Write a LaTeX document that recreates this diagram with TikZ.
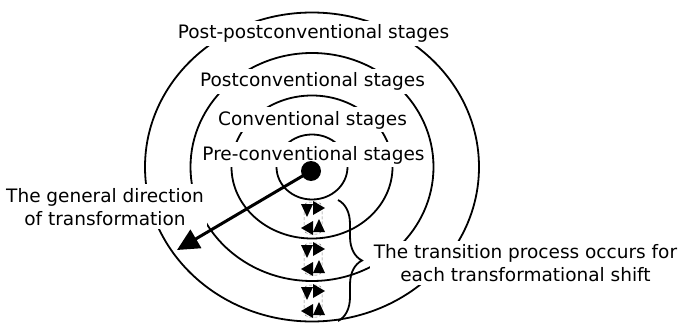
\documentclass[tikz,border=0pt]{standalone}
\usepackage{fontspec}
\setmainfont{DejaVu Sans}
\usetikzlibrary{arrows.meta,decorations.pathreplacing}
\tikzset{
  ring/.style={line width=1.8pt},
  stagetext/.style={fill=white, inner sep=3.5pt, font=\fontsize{18.5}{23}\selectfont},
  sidetext/.style={fill=white, inner sep=3.5pt, align=center, font=\fontsize{18.5}{23}\selectfont},
  shiftcycle/.pic={
    \draw[gray, densely dashed, line width=0.5pt, rounded corners=5pt] (-9,-16) rectangle (9,16);
    \fill (-12,-14) -- (0,-14) -- (-6,-1) -- cycle;
    \fill (0,-17) -- (0,-3) -- (12,-10) -- cycle;
    \fill (0,14) -- (12,14) -- (6,1) -- cycle;
    \fill (0,17) -- (0,3) -- (-12,10) -- cycle;
  }
}
\begin{document}
\begin{tikzpicture}[x=1pt,y=-1pt]
\useasboundingbox (0,0) rectangle (681,324);
\fill[white] (0,0) rectangle (681,324);

% stage rings
\coordinate (c) at (312,167);
\draw[ring] (c) ellipse [x radius=167pt, y radius=154.5pt];
\draw[ring] (c) ellipse [x radius=121.5pt, y radius=114pt];
\draw[ring] (c) ellipse [x radius=80.5pt, y radius=71.5pt];
\draw[ring] (c) ellipse [x radius=35.5pt, y radius=32.5pt];

% stage names
\node[stagetext, anchor=base] (postpost) at (313.5,38.5) {Post-postconventional stages};
\node[stagetext, anchor=base] (post) at (312.5,86.5) {Postconventional stages};
\node[stagetext, anchor=base] (conv) at (312.5,125) {Conventional stages};
\node[stagetext, anchor=base] (pre) at (313.5,160) {Pre-conventional stages};

% side notes
\node[sidetext, anchor=base] (dirtext) at (105,225) {The general direction\\of transformation};
\node[sidetext, anchor=base] (shifttext) at (525.5,281.7) {The transition process occurs for\\each transformational shift};

% direction of transformation
\node[circle, fill=black, minimum size=20pt, inner sep=0pt] (dot) at (311,171) {};
\coordinate (tipA) at (177,250);
\draw[line width=3pt, -{Triangle[length=22pt,width=21pt]}] (dot.center) -- (tipA);

% transition cycles
\pic at (313,218) {shiftcycle};
\pic at (313,259) {shiftcycle};
\pic at (313,301) {shiftcycle};

% brace over the shifts
\coordinate (braceTop) at (338,200);
\coordinate (braceBot) at (338,321);
\draw[line width=1.8pt, decorate, decoration={brace, amplitude=24pt}] (braceTop) -- (braceBot);
\end{tikzpicture}
\end{document}
